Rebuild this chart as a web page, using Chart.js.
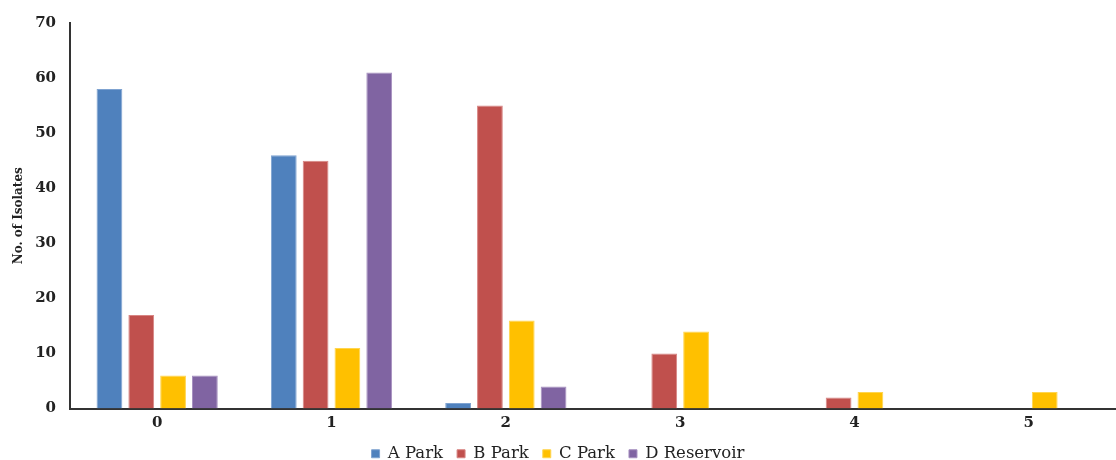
<!DOCTYPE html>
<html>
<head>
<meta charset="utf-8">
<script src="https://cdn.jsdelivr.net/npm/chart.js@4/dist/chart.umd.min.js"></script>
<style>
  html, body { margin: 0; padding: 0; background: #fff; }
  #wrap { width: 1116px; height: 460px; }
</style>
</head>
<body>
<div id="wrap"><canvas id="isolatesChart"></canvas></div>
<script>
const categories = ['0', '1', '2', '3', '4', '5'];
const aPark = [58, 46, 1, 0, 0, 0];
const bPark = [17, 45, 55, 10, 2, 0];
const cPark = [6, 11, 16, 14, 3, 3];
const dReservoir = [6, 61, 4, 0, 0, 0];
const yTicks = [0, 10, 20, 30, 40, 50, 60, 70];

const serif = "'DejaVu Serif', 'Liberation Serif', serif";

function series(label, data, fill, edge) {
    return {
        label: label,
        data: data,
        backgroundColor: fill,
        borderColor: edge,
        borderWidth: 1,
        barPercentage: 0.81,
        categoryPercentage: 0.73
    };
}

const ctx = document.getElementById('isolatesChart').getContext('2d');
new Chart(ctx, {
    type: 'bar',
    data: {
        labels: categories,
        datasets: [
            series('A Park', aPark, '#4F81BD', '#7FA3D1'),
            series('B Park', bPark, '#C0504D', '#D88583'),
            series('C Park', cPark, '#FFC000', '#FFD54F'),
            series('D Reservoir', dReservoir, '#8064A2', '#A690C0')
        ]
    },
    options: {
        responsive: true,
        maintainAspectRatio: false,
        animation: false,
        layout: { padding: { top: 21, right: 0, left: 0, bottom: -12 } },
        plugins: {
            legend: {
                position: 'bottom',
                labels: {
                    boxWidth: 8,
                    boxHeight: 8,
                    padding: 14,
                    color: '#222',
                    font: { family: serif, size: 16.5 }
                }
            },
            tooltip: { enabled: false }
        },
        scales: {
            x: {
                afterFit: scale => { scale.height = 23; },
                grid: { display: false, drawTicks: false },
                border: { color: '#333', width: 2 },
                ticks: { color: '#222', padding: 6, font: { family: serif, size: 15, weight: 'bold' } }
            },
            y: {
                min: 0,
                max: 70,
                afterBuildTicks: axis => { axis.ticks = yTicks.map(v => ({ value: v })); },
                afterFit: scale => { scale.width = 70; },
                grid: { display: false, drawTicks: false },
                border: { color: '#333', width: 2 },
                ticks: { color: '#222', padding: 14, font: { family: serif, size: 15, weight: 'bold' } },
                title: {
                    display: true,
                    text: 'No. of Isolates',
                    color: '#222',
                    padding: { top: 12, bottom: 0 },
                    font: { family: serif, size: 12, weight: 'bold' }
                }
            }
        }
    }
});
</script>
</body>
</html>
